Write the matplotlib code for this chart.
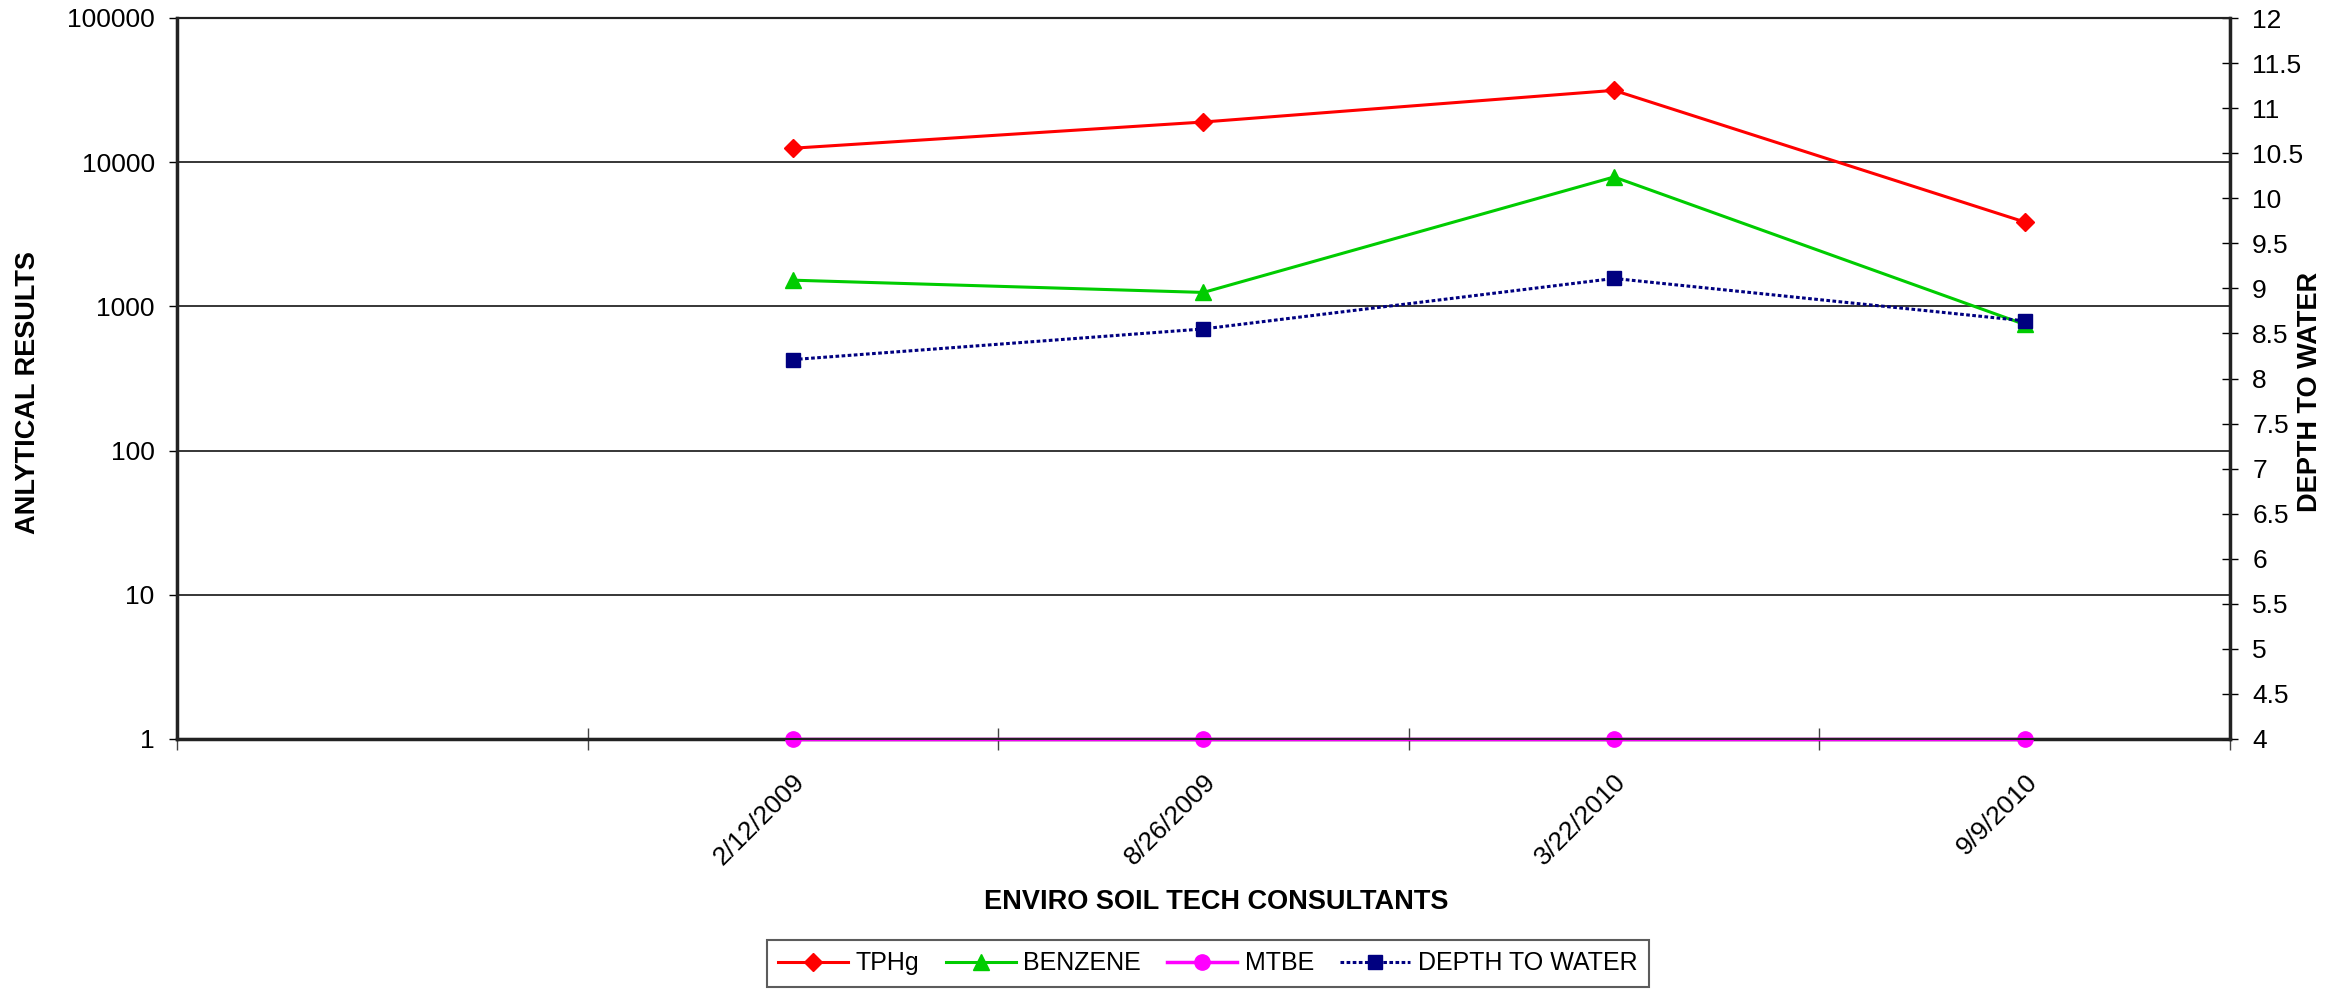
import numpy as np
import matplotlib
matplotlib.use('Agg')
import matplotlib.pyplot as plt
from matplotlib.ticker import FixedLocator, NullFormatter, FixedFormatter

plt.rcParams['font.family'] = ['Liberation Sans', 'DejaVu Sans']

# sample dates (first category slot is left empty in the original sheet)
categories = ['', '2/12/2009', '8/26/2009', '3/22/2010', '9/9/2010']
tphg = [12500, 19000, 31500, 3850]
benzene = [1520, 1250, 7900, 750]
mtbe = [1, 1, 1, 1]
depth_to_water = [8.21, 8.55, 9.11, 8.64]

x_all = np.arange(len(categories))
x_data = x_all[1:]

fig = plt.figure(figsize=(23.5, 10), dpi=100)
ax = fig.add_axes([0.0753, 0.261, 0.8736, 0.721])
ax2 = ax.twinx()

l1, = ax.plot(x_data, tphg, color='#ff0000', lw=2.2, marker='D', ms=9,
              label='TPHg', zorder=4)
l2, = ax.plot(x_data, benzene, color='#00cc00', lw=2.2, marker='^', ms=11,
              label='BENZENE', zorder=4)
l3, = ax.plot(x_data, mtbe, color='#ff00ff', lw=2.5, marker='o', ms=11,
              label='MTBE', zorder=5, clip_on=False)
l4, = ax2.plot(x_data, depth_to_water, color='#000080', lw=2.2, ls=(0, (1.2, 0.8)),
               marker='s', ms=10, label='DEPTH TO WATER', zorder=4)

ax.set_yscale('log')
ax.set_ylim(1, 100000)
ax.set_yticks([1, 10, 100, 1000, 10000, 100000])
ax.set_yticklabels(['1', '10', '100', '1000', '10000', '100000'])
ax.yaxis.set_minor_locator(FixedLocator([]))
ax.grid(axis='y', which='major', color='black', lw=1.1)
ax.set_axisbelow(True)

ax2.set_ylim(4, 12)
ax2.set_yticks(np.arange(4, 12.01, 0.5))
ax2.set_yticklabels([f'{v:g}' for v in np.arange(4, 12.01, 0.5)])

ax.set_xlim(-0.5, len(categories) - 0.5)
ax.xaxis.set_major_locator(FixedLocator(np.arange(-0.5, len(categories), 1.0)))
ax.xaxis.set_major_formatter(NullFormatter())
ax.xaxis.set_minor_locator(FixedLocator(x_all))
ax.xaxis.set_minor_formatter(FixedFormatter(categories))
ax.tick_params(axis='x', which='major', direction='inout', length=16, width=1, color='#444444')
ax.tick_params(axis='x', which='minor', length=0, labelsize=19, pad=22)
for lbl in ax.xaxis.get_minorticklabels():
    lbl.set_rotation(45)
    lbl.set_ha('right')
    lbl.set_va('top')
    lbl.set_rotation_mode('anchor')

ax.tick_params(axis='y', which='major', direction='out', length=6, width=1,
               labelsize=19, pad=10)
ax2.tick_params(axis='y', direction='inout', length=12, width=1, labelsize=19, pad=10)

for a in (ax, ax2):
    for s in a.spines.values():
        s.set_color('#222222')
        s.set_linewidth(1.5)
ax.spines['left'].set_linewidth(2.5)
ax.spines['bottom'].set_linewidth(2.5)
ax2.spines['right'].set_linewidth(2.5)

ax.set_ylabel('ANLYTICAL RESULTS', fontsize=19.5, fontweight='bold')
ax.yaxis.set_label_coords(-0.066, 0.48)
ax2.set_ylabel('DEPTH TO WATER', fontsize=19.5, fontweight='bold')
ax2.yaxis.set_label_coords(1.0326, 0.481)
ax.set_xlabel('ENVIRO SOIL TECH CONSULTANTS', fontsize=19.5, fontweight='bold')
ax.xaxis.set_label_coords(0.506, -0.208)

leg = fig.legend(handles=[l1, l2, l3, l4], loc='lower center', ncol=4,
                 bbox_to_anchor=(0.514, 0.001), frameon=True,
                 fancybox=False, edgecolor='#333333', handlelength=2.8,
                 handletextpad=0.3, columnspacing=1.05, borderpad=0.45,
                 prop={'size': 18})
leg.get_frame().set_linewidth(1.5)

fig.savefig('out.png', dpi=100, facecolor='white')
